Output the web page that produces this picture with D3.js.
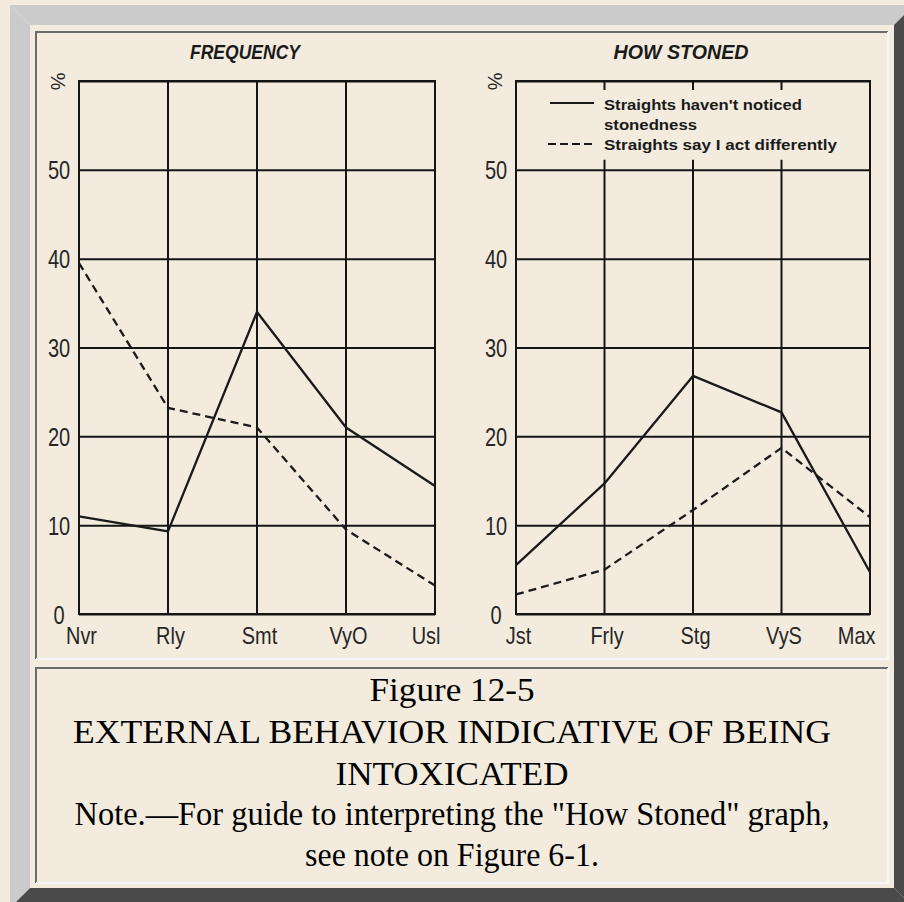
<!DOCTYPE html>
<html>
<head>
<meta charset="utf-8">
<script src="https://cdn.jsdelivr.net/npm/d3@7"></script>
<style>
  html, body { margin: 0; padding: 0; background: #f3ecde; }
  svg { display: block; }
</style>
</head>
<body>
<script>
// ---------- DATA ----------
const freqCats = ["Nvr", "Rly", "Smt", "VyO", "Usl"];
const freqNoticed = [11, 9.3, 34, 21, 14.4];      // solid
const freqActDiff = [39.5, 23.2, 21, 9.5, 3.2];   // dashed

const stonedCats = ["Jst", "Frly", "Stg", "VyS", "Max"];
const stonedNoticed = [5.5, 14.7, 26.8, 22.7, 4.7];   // solid
const stonedActDiff = [2.2, 5, 11.7, 18.7, 10.9];     // dashed

const yTicks = [0, 10, 20, 30, 40, 50, 60];
const yTickLabels = ["0", "10", "20", "30", "40", "50", "%"];

const panelTitles = ["FREQUENCY", "HOW STONED"];
const legendSolid = ["Straights haven't noticed", "stonedness"];
const legendDashed = ["Straights say I act differently"];

const captionLines = [
  "Figure 12-5",
  "EXTERNAL BEHAVIOR INDICATIVE OF BEING",
  "INTOXICATED",
  "Note.\u2014For guide to interpreting the \"How Stoned\" graph,",
  "see note on Figure 6-1."
];

// ---------- LAYOUT (sizes/positions) ----------
const W = 904, H = 902;
const capY = [701, 743, 785, 825, 866];
const capLen = [165, 758, 233, 755, 294];
const titleLen = [110, 135];
const legendLen = [198, 93, 233];

const svg = d3.select("body").append("svg").attr("width", W).attr("height", H);
const BG = "#f3ecde";
svg.append("rect").attr("width", W).attr("height", H).attr("fill", BG);

function squeeze(sel, factor) {
  sel.each(function () {
    const L = this.getComputedTextLength();
    d3.select(this).attr("textLength", L * factor).attr("lengthAdjust", "spacingAndGlyphs");
  });
}
function fitTo(sel, len) {
  sel.attr("textLength", len).attr("lengthAdjust", "spacingAndGlyphs");
}

// Outer bevel frame (outset style)
const light = "#cbcbcb", dark = "#4a4a4a";
const fo = {x0: 10, y0: 5, x1: 914, y1: 908, b: 20};
const poly = (pts, fill) => svg.append("polygon").attr("points", pts.map(p => p.join(",")).join(" ")).attr("fill", fill);
poly([[fo.x0, fo.y0], [fo.x1, fo.y0], [fo.x1 - fo.b, fo.y0 + fo.b], [fo.x0 + fo.b, fo.y0 + fo.b]], light);
poly([[fo.x0, fo.y0], [fo.x0 + fo.b, fo.y0 + fo.b], [fo.x0 + fo.b, fo.y1 - fo.b], [fo.x0, fo.y1]], light);
poly([[fo.x1, fo.y0], [fo.x1, fo.y1], [fo.x1 - fo.b, fo.y1 - fo.b], [fo.x1 - fo.b, fo.y0 + fo.b]], dark);
poly([[fo.x0, fo.y1], [fo.x0 + fo.b, fo.y1 - fo.b], [fo.x1 - fo.b, fo.y1 - fo.b], [fo.x1, fo.y1]], dark);

// Inset cell borders
function cell(x0, y0, x1, y1) {
  const g = svg.append("g").attr("fill", "none").attr("stroke-width", 2);
  g.append("path").attr("d", `M${x0},${y1}V${y0}H${x1}`).attr("stroke", "#6a6a6a");
  g.append("path").attr("d", `M${x1},${y0}V${y1}H${x0}`).attr("stroke", "#f7f7f7");
}
cell(36, 32, 888, 659);
cell(36, 668, 888, 883);

// ---------- CHARTS ----------
const y = d3.scaleLinear().domain([0, 60]).range([614, 81]);
const sans = "'Liberation Sans', Arial, sans-serif";
const ink = "#151515";

function drawPanel(cats, solid, dashed, x0, x1, title, tLen, titleX, splitGrid) {
  const x = d3.scalePoint().domain(cats).range([x0, x1]);
  const g = svg.append("g");

  // horizontal grid + y labels via axis
  const ya = g.append("g").attr("transform", `translate(${x0},0)`)
    .call(d3.axisLeft(y).tickValues(yTicks).tickSize(-(x1 - x0)).tickFormat((d, i) => yTickLabels[i]));
  ya.select(".domain").remove();
  ya.selectAll(".tick line").attr("stroke", ink).attr("stroke-width", 2);
  ya.selectAll(".tick text")
    .attr("x", -20).attr("dy", "0.36em")
    .attr("text-anchor", "middle")
    .style("font-family", sans).style("font-size", "25px").attr("fill", "#262626");
  squeeze(ya.selectAll(".tick").filter(d => d !== 60).select("text"), 0.8);
  ya.selectAll(".tick").filter(d => d === 60).select("text")
    .attr("dy", "0.36em").attr("y", 1).attr("transform", "rotate(90,-20,0)")
    .style("font-size", "20px");

  // x labels via axis
  const xa = g.append("g").attr("transform", `translate(0,${y(0)})`)
    .call(d3.axisBottom(x).tickSize(0).tickPadding(0));
  xa.select(".domain").remove();
  xa.selectAll(".tick text")
    .attr("y", 30).attr("dy", null)
    .style("font-family", sans).style("font-size", "24px").attr("fill", "#262626")
    .attr("text-anchor", (d, i) => i === cats.length - 1 ? "end" : "middle")
    .attr("dx", (d, i) => i === cats.length - 1 ? 5 : 2);
  squeeze(xa.selectAll(".tick text"), 0.83);

  // vertical grid
  cats.forEach((c, i) => {
    if (i === 0 || i === cats.length - 1) return;
    if (splitGrid) {
      g.append("line").attr("x1", x(c)).attr("x2", x(c)).attr("y1", y(60)).attr("y2", y(60) + 9)
        .attr("stroke", ink).attr("stroke-width", 2);
      g.append("line").attr("x1", x(c)).attr("x2", x(c)).attr("y1", y(50) - 10).attr("y2", y(0))
        .attr("stroke", ink).attr("stroke-width", 2);
    } else {
      g.append("line").attr("x1", x(c)).attr("x2", x(c)).attr("y1", y(60)).attr("y2", y(0))
        .attr("stroke", ink).attr("stroke-width", 2);
    }
  });
  // frame
  g.append("rect").attr("x", x0).attr("y", y(60)).attr("width", x1 - x0).attr("height", y(0) - y(60))
    .attr("fill", "none").attr("stroke", ink).attr("stroke-width", 2);

  // data lines
  const line = d3.line().x((d, i) => x(cats[i])).y(d => y(d));
  g.append("path").datum(solid).attr("d", line).attr("fill", "none")
    .attr("stroke", "#1a1a1a").attr("stroke-width", 2.3).attr("stroke-linejoin", "round");
  g.append("path").datum(dashed).attr("d", line).attr("fill", "none")
    .attr("stroke", "#1a1a1a").attr("stroke-width", 2.3).attr("stroke-dasharray", "8,5");

  // title
  const t = g.append("text").attr("x", titleX).attr("y", 59).attr("text-anchor", "middle")
    .style("font-family", sans).style("font-size", "21px").style("font-weight", "bold")
    .style("font-style", "italic").attr("fill", "#1a1a1a").text(title);
  fitTo(t, tLen);
  return x;
}

drawPanel(freqCats, freqNoticed, freqActDiff, 79, 435, panelTitles[0], titleLen[0], 245, false);
drawPanel(stonedCats, stonedNoticed, stonedActDiff, 516, 870, panelTitles[1], titleLen[1], 681, true);

// legend
const lg = svg.append("g");
lg.append("line").attr("x1", 550).attr("x2", 594).attr("y1", 103).attr("y2", 103)
  .attr("stroke", "#1a1a1a").attr("stroke-width", 2);
lg.append("line").attr("x1", 548).attr("x2", 594).attr("y1", 144).attr("y2", 144)
  .attr("stroke", "#1a1a1a").attr("stroke-width", 2).attr("stroke-dasharray", "8,4");
const legStyle = sel => sel.style("font-family", sans).style("font-size", "15px")
  .style("font-weight", "bold").attr("fill", "#1a1a1a");
fitTo(legStyle(lg.append("text").attr("x", 604).attr("y", 110).text(legendSolid[0])), legendLen[0]);
fitTo(legStyle(lg.append("text").attr("x", 604).attr("y", 130).text(legendSolid[1])), legendLen[1]);
fitTo(legStyle(lg.append("text").attr("x", 604).attr("y", 150).text(legendDashed[0])), legendLen[2]);

// caption
svg.append("g").selectAll("text").data(captionLines).join("text")
  .attr("x", 452).attr("y", (d, i) => capY[i]).attr("text-anchor", "middle")
  .style("font-family", "'Liberation Serif', 'Times New Roman', serif").style("font-size", "34px")
  .attr("textLength", (d, i) => capLen[i]).attr("lengthAdjust", "spacingAndGlyphs")
  .attr("fill", "#000").text(d => d);
</script>
</body>
</html>
